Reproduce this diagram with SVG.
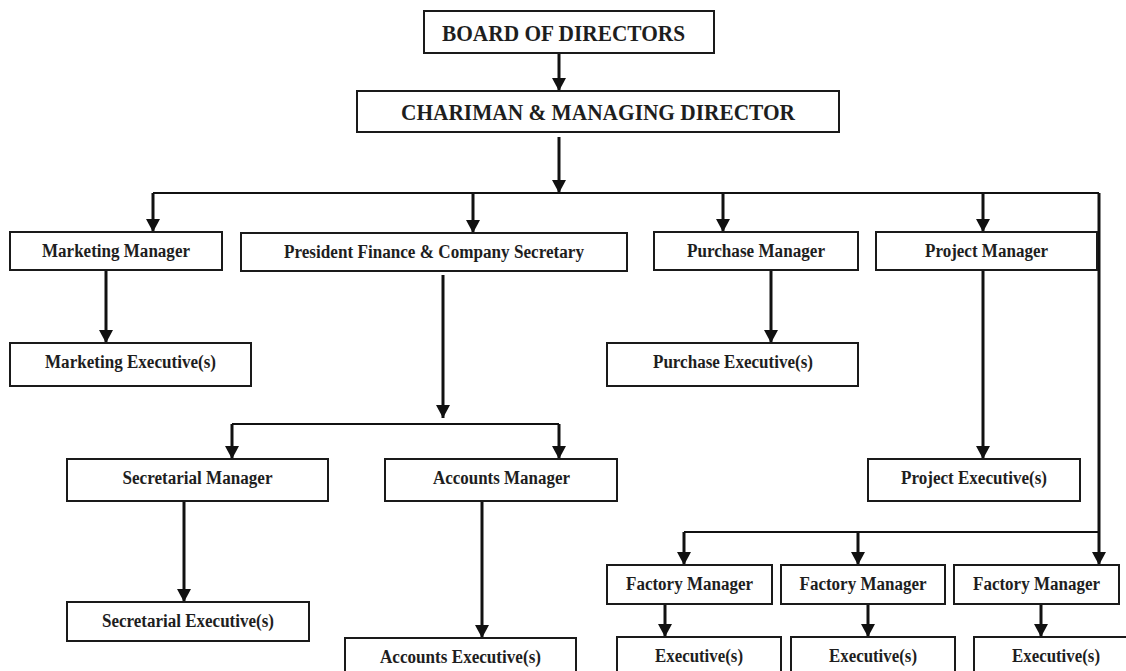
<svg xmlns="http://www.w3.org/2000/svg" width="1126" height="671" viewBox="0 0 1126 671">
  <style>
    .box { fill: #ffffff; stroke: #1a1a1a; stroke-width: 2; }
    .lbl { font-family: "Liberation Serif", "Times New Roman", serif; font-weight: bold; font-size: 18.5px; fill: #1e1e1e; text-anchor: middle; }
    .big { font-size: 23px; }
    .conn { fill: none; stroke: #111111; stroke-width: 2; }
    .arr { fill: none; stroke: #111111; stroke-width: 3; marker-end: url(#ah); }
  </style>
  <defs>
    <marker id="ah" markerUnits="userSpaceOnUse" markerWidth="14" markerHeight="14" viewBox="0 0 14 14" refX="13" refY="7" orient="auto">
      <path d="M0,0 L13,7 L0,14 z" fill="#111111"/>
    </marker>
  </defs>
  <rect width="1126" height="671" fill="#ffffff"/>

  <g id="connectors">
    <path class="arr" d="M559 53 V91"/>
    <path class="arr" d="M559 137 V193"/>
    <path class="conn" d="M153 193 H1099"/>
    <path class="arr" d="M1099 193 V565"/>
    <path class="arr" d="M153 193 V232"/>
    <path class="arr" d="M473 193 V233"/>
    <path class="arr" d="M723 193 V232"/>
    <path class="arr" d="M983 193 V232"/>
    <path class="arr" d="M106 270 V343"/>
    <path class="arr" d="M443 275 V418"/>
    <path class="conn" d="M232 424 H559"/>
    <path class="arr" d="M232 424 V459"/>
    <path class="arr" d="M559 424 V459"/>
    <path class="arr" d="M184 501 V602"/>
    <path class="arr" d="M482 496 V638"/>
    <path class="arr" d="M771 270 V343"/>
    <path class="arr" d="M983 270 V459"/>
    <path class="conn" d="M684 532 H1099"/>
    <path class="arr" d="M684 532 V565"/>
    <path class="arr" d="M858 532 V565"/>
    <path class="arr" d="M665 604 V637"/>
    <path class="arr" d="M868 604 V637"/>
    <path class="arr" d="M1041 604 V637"/>
  </g>

  <g id="board">
    <rect class="box" x="424" y="11" width="290" height="42"/>
    <text class="lbl big" x="563.5" y="40.5" textLength="243" lengthAdjust="spacingAndGlyphs">BOARD OF DIRECTORS</text>
  </g>
  <g id="chairman">
    <rect class="box" x="357" y="91" width="482" height="41"/>
    <text class="lbl big" x="598" y="120" textLength="394" lengthAdjust="spacingAndGlyphs">CHARIMAN &amp; MANAGING DIRECTOR</text>
  </g>
  <g id="marketing-manager">
    <rect class="box" x="10" y="232" width="212" height="38"/>
    <text class="lbl" x="116" y="257" textLength="148" lengthAdjust="spacingAndGlyphs">Marketing Manager</text>
  </g>
  <g id="president-finance">
    <rect class="box" x="241" y="233" width="386" height="38"/>
    <text class="lbl" x="434" y="258" textLength="300" lengthAdjust="spacingAndGlyphs">President Finance &amp; Company Secretary</text>
  </g>
  <g id="purchase-manager">
    <rect class="box" x="654" y="232" width="204" height="38"/>
    <text class="lbl" x="756" y="257" textLength="138" lengthAdjust="spacingAndGlyphs">Purchase Manager</text>
  </g>
  <g id="project-manager">
    <rect class="box" x="876" y="232" width="221" height="38"/>
    <text class="lbl" x="986.5" y="257" textLength="123" lengthAdjust="spacingAndGlyphs">Project Manager</text>
  </g>
  <g id="marketing-executive">
    <rect class="box" x="10" y="343" width="241" height="43"/>
    <text class="lbl" x="130.5" y="368" textLength="171" lengthAdjust="spacingAndGlyphs">Marketing Executive(s)</text>
  </g>
  <g id="purchase-executive">
    <rect class="box" x="607" y="343" width="251" height="43"/>
    <text class="lbl" x="733" y="368" textLength="160" lengthAdjust="spacingAndGlyphs">Purchase Executive(s)</text>
  </g>
  <g id="secretarial-manager">
    <rect class="box" x="67" y="459" width="261" height="42"/>
    <text class="lbl" x="197.5" y="484" textLength="150" lengthAdjust="spacingAndGlyphs">Secretarial Manager</text>
  </g>
  <g id="accounts-manager">
    <rect class="box" x="385" y="459" width="232" height="42"/>
    <text class="lbl" x="501.5" y="484" textLength="137" lengthAdjust="spacingAndGlyphs">Accounts Manager</text>
  </g>
  <g id="project-executive">
    <rect class="box" x="868" y="459" width="212" height="42"/>
    <text class="lbl" x="974" y="484" textLength="146" lengthAdjust="spacingAndGlyphs">Project Executive(s)</text>
  </g>
  <g id="secretarial-executive">
    <rect class="box" x="67" y="602" width="242" height="39"/>
    <text class="lbl" x="188" y="627" textLength="172" lengthAdjust="spacingAndGlyphs">Secretarial Executive(s)</text>
  </g>
  <g id="accounts-executive">
    <rect class="box" x="345" y="638" width="231" height="45"/>
    <text class="lbl" x="460.5" y="663" textLength="161" lengthAdjust="spacingAndGlyphs">Accounts Executive(s)</text>
  </g>
  <g id="factory-manager-1">
    <rect class="box" x="607" y="565" width="165" height="39"/>
    <text class="lbl" x="689.5" y="590" textLength="127" lengthAdjust="spacingAndGlyphs">Factory Manager</text>
  </g>
  <g id="factory-manager-2">
    <rect class="box" x="781" y="565" width="164" height="39"/>
    <text class="lbl" x="863" y="590" textLength="127" lengthAdjust="spacingAndGlyphs">Factory Manager</text>
  </g>
  <g id="factory-manager-3">
    <rect class="box" x="954" y="565" width="165" height="39"/>
    <text class="lbl" x="1036.5" y="590" textLength="127" lengthAdjust="spacingAndGlyphs">Factory Manager</text>
  </g>
  <g id="executive-1">
    <rect class="box" x="617" y="637" width="164" height="45"/>
    <text class="lbl" x="699" y="662" textLength="88" lengthAdjust="spacingAndGlyphs">Executive(s)</text>
  </g>
  <g id="executive-2">
    <rect class="box" x="791" y="637" width="164" height="45"/>
    <text class="lbl" x="873" y="662" textLength="88" lengthAdjust="spacingAndGlyphs">Executive(s)</text>
  </g>
  <g id="executive-3">
    <rect class="box" x="974" y="637" width="164" height="45"/>
    <text class="lbl" x="1056" y="662" textLength="88" lengthAdjust="spacingAndGlyphs">Executive(s)</text>
  </g>
</svg>
